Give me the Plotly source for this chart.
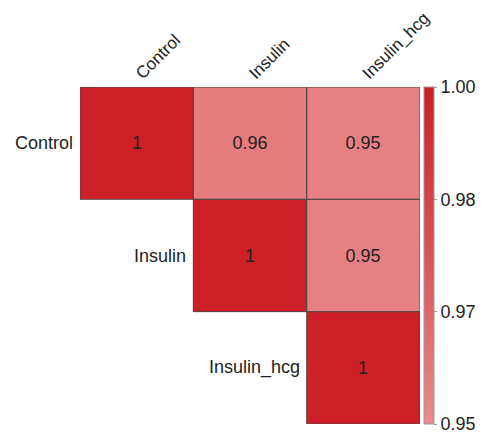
import plotly.graph_objects as go

categories = ["Control", "Insulin", "Insulin_hcg"]
# upper-triangle correlation matrix (None = not shown)
corr = [
    [1.0, 0.957, 0.9545],
    [None, 1.0, 0.9545],
    [None, None, 1.0],
]
cbar_tickvals = [0.95, 0.96667, 0.98333, 1.0]
cbar_ticktext = ["0.95", "0.97", "0.98", "1.00"]

FONT = "Liberation Sans, Arial, Helvetica"
n = len(categories)
text = [["" if v is None else f"{v:.2f}".rstrip("0").rstrip(".") for v in row] for row in corr]

fig = go.Figure()
fig.add_trace(go.Heatmap(
    z=corr,
    x=list(range(n)),
    y=list(range(n)),
    text=text,
    texttemplate="%{text}",
    textfont=dict(size=18, color="#222222", family=FONT),
    colorscale=[[0, "#E98B8C"], [1, "#CC1F27"]],
    zmin=0.95, zmax=1.0,
    hoverongaps=False,
    colorbar=dict(
        x=1.012, xanchor="left", xpad=0,
        y=0.5, yanchor="middle", len=1.0, lenmode="fraction", ypad=0,
        thickness=10,
        outlinecolor="#999999", outlinewidth=1,
        tickvals=cbar_tickvals, ticktext=cbar_ticktext,
        ticks="outside", ticklen=3, tickcolor="#999999",
        tickfont=dict(size=18, color="#222222", family=FONT),
    ),
))

# cell borders derived from the matrix
for i in range(n):
    for j in range(n):
        if corr[i][j] is not None:
            fig.add_shape(type="rect", x0=j - 0.5, x1=j + 0.5, y0=i - 0.5, y1=i + 0.5,
                          line=dict(color="#5a4646", width=1), layer="above")

# row labels along the diagonal
for i, c in enumerate(categories):
    fig.add_annotation(x=i - 0.5, y=i, text=c, showarrow=False, xanchor="right",
                       xshift=-5, font=dict(size=18, color="#222222", family=FONT))

fig.update_xaxes(range=[-0.5, n - 0.5], side="top", tickvals=list(range(n)), ticktext=categories,
                 tickangle=-45, showgrid=False, zeroline=False, showline=False, ticks="",
                 tickfont=dict(size=17, color="#222222", family=FONT))
fig.update_yaxes(range=[n - 0.5, -0.5], showticklabels=False, showgrid=False, zeroline=False,
                 showline=False, ticks="")

fig.update_layout(
    width=483, height=429,
    margin=dict(l=72, r=71, t=79, b=13, autoexpand=False),
    plot_bgcolor="white", paper_bgcolor="white",
    font=dict(family=FONT),
)
fig.write_html("out.html")
